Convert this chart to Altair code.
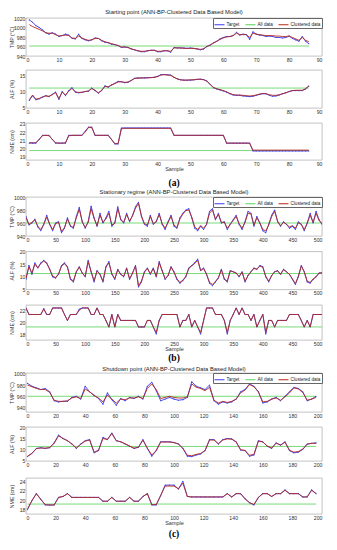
import altair as alt
import pandas as pd

FONT = "Liberation Sans"
SERIES = ["Target", "All data", "Clustered data"]
COLORS = ["#3a3af0", "#55d055", "#b22a1e"]

# ---------------- (a) Starting point ----------------
A_X = list(range(1, 87))
A_TMP_T = [1016, 1011, 1004, 1000, 995, 989, 986, 989, 986, 981,
           983, 986, 984, 977, 976, 986, 977, 974, 972, 974,
           978, 977, 972, 969, 968, 965, 964, 962, 958, 959,
           958, 955, 953, 951, 949, 949, 951, 952, 952, 949,
           949, 951, 951, 948, 958, 957, 957, 957, 956, 957,
           956, 955, 953, 955, 960, 963, 968, 971, 976, 979,
           981, 981, 983, 990, 984, 986, 985, 975, 991, 986,
           984, 983, 981, 982, 981, 979, 979, 978, 979, 982,
           977, 974, 971, 981, 971, 966]
A_TMP_C = [1006, 1002, 999, 996, 993, 989, 988, 988, 985, 982,
           983, 984, 983, 978, 977, 982, 978, 975, 973, 974,
           977, 977, 973, 970, 968, 966, 964, 962, 959, 959,
           958, 955, 953, 951, 950, 950, 951, 952, 952, 950,
           950, 951, 951, 950, 957, 957, 957, 956, 956, 956,
           956, 955, 954, 955, 960, 963, 967, 971, 975, 978,
           980, 981, 983, 988, 985, 985, 985, 979, 988, 986,
           985, 984, 983, 983, 983, 982, 982, 981, 981, 982,
           979, 976, 973, 979, 973, 970]
A_ALF_T = [7.2, 8.7, 7.4, 7.7, 8.2, 8.7, 8.4, 9.1, 9.8, 7.5,
           10.0, 8.7, 10.3, 11.2, 9.8, 9.6, 9.7, 10.0, 10.1, 11.1,
           10.3, 9.5, 10.3, 11.8, 11.4, 12.1, 12.6, 13.2, 13.1, 12.8,
           12.9, 13.5, 14.2, 14.3, 14.3, 14.3, 14.4, 14.4, 14.5, 14.8,
           15.3, 15.4, 15.3, 15.2, 14.5, 14.0, 13.7, 13.6, 13.6, 13.6,
           13.7, 13.8, 13.9, 13.8, 13.3, 12.2, 11.2, 10.8, 10.5, 10.2,
           9.8, 9.3, 8.9, 8.8, 8.8, 8.6, 8.5, 8.4, 8.5, 8.8,
           9.1, 9.3, 9.3, 8.8, 8.5, 8.6, 8.9, 9.3, 9.6, 10.0,
           10.3, 10.3, 10.3, 10.3, 10.8, 11.7]
A_ALF_C = [7.4, 8.9, 7.6, 7.8, 8.3, 8.6, 8.5, 9.0, 9.7, 7.8,
           9.8, 8.9, 10.1, 11.0, 9.9, 9.7, 9.8, 10.0, 10.2, 10.9,
           10.4, 9.6, 10.4, 11.6, 11.5, 12.0, 12.5, 13.0, 13.1, 12.9,
           13.0, 13.5, 14.1, 14.2, 14.3, 14.3, 14.3, 14.4, 14.5, 14.7,
           15.2, 15.3, 15.2, 15.1, 14.5, 14.0, 13.7, 13.6, 13.6, 13.7,
           13.7, 13.9, 13.9, 13.7, 13.3, 12.3, 11.3, 10.9, 10.6, 10.3,
           9.9, 9.4, 9.0, 8.9, 8.9, 8.8, 8.7, 8.6, 8.7, 8.9,
           9.2, 9.4, 9.3, 9.0, 8.8, 8.8, 9.0, 9.3, 9.6, 10.0,
           10.3, 10.4, 10.4, 10.4, 10.9, 11.8]
A_NME_T = [20.65, 20.65, 20.65, 21.1, 21.6, 21.6, 21.6, 21.1, 20.65, 20.65,
           20.65, 20.65, 21.6, 21.6, 21.6, 21.6, 21.6, 22.1, 22.6, 22.6,
           21.6, 21.6, 21.6, 21.6, 21.6, 21.1, 20.55, 20.55, 22.5, 22.5,
           22.5, 22.5, 22.5, 22.5, 22.5, 22.5, 22.5, 22.5, 22.5, 22.5,
           22.5, 22.5, 22.5, 22.5, 21.6, 21.6, 21.6, 21.6, 21.6, 21.6,
           21.6, 21.6, 21.6, 21.6, 21.6, 21.6, 21.6, 21.6, 21.6, 21.6,
           20.65, 20.65, 20.65, 20.65, 20.65, 20.65, 20.65, 20.65, 19.7, 19.7,
           19.7, 19.7, 19.7, 19.7, 19.7, 19.7, 19.7, 19.7, 19.7, 19.7,
           19.7, 19.7, 19.7, 19.7, 19.7, 19.7]
A_NME_C = [20.7, 20.7, 20.7, 21.1, 21.55, 21.6, 21.55, 21.1, 20.7, 20.65,
           20.65, 20.7, 21.55, 21.6, 21.6, 21.6, 21.6, 22.0, 22.55, 22.55,
           21.6, 21.6, 21.6, 21.6, 21.6, 21.1, 20.6, 20.6, 22.4, 22.45,
           22.45, 22.45, 22.45, 22.45, 22.45, 22.45, 22.45, 22.45, 22.45, 22.45,
           22.45, 22.45, 22.45, 22.45, 21.6, 21.6, 21.6, 21.6, 21.6, 21.6,
           21.6, 21.6, 21.6, 21.6, 21.6, 21.6, 21.6, 21.6, 21.6, 21.6,
           20.65, 20.65, 20.65, 20.65, 20.65, 20.65, 20.65, 20.65, 19.8, 19.8,
           19.8, 19.8, 19.8, 19.8, 19.8, 19.8, 19.8, 19.8, 19.8, 19.8,
           19.8, 19.8, 19.8, 19.8, 19.8, 19.8]
A_ALL_X = [1, 86]
A_ALL_TMP = [961, 961]
A_ALL_ALF = [11.1, 11.1]
A_ALL_NME = [19.75, 19.75]

# ---------------- (b) Stationary regime ----------------
B_X = list(range(0, 501, 5))
B_TMP_T = [970, 957, 960, 966, 954, 948, 958, 972, 958, 948,
           960, 962, 945, 952, 968, 955, 952, 970, 984, 962,
           952, 962, 986, 968, 955, 975, 960, 968, 978, 955,
           960, 985, 965, 960, 975, 962, 972, 985, 992, 970,
           958, 955, 972, 958, 962, 975, 958, 950, 962, 972,
           955, 952, 968, 975, 980, 982, 968, 952, 948, 955,
           950, 958, 978, 982, 965, 975, 960, 962, 950, 958,
           965, 972, 958, 950, 962, 978, 975, 955, 970, 960,
           948, 945, 958, 972, 980, 962, 955, 962, 958, 952,
           955, 950, 962, 958, 948, 960, 975, 960, 978, 965,
           958]
B_TMP_C = [968, 958, 961, 965, 955, 950, 958, 969, 958, 950,
           959, 961, 947, 953, 966, 956, 953, 968, 981, 962,
           953, 961, 982, 967, 956, 972, 961, 966, 975, 957,
           960, 982, 966, 961, 973, 963, 971, 983, 990, 971,
           959, 957, 970, 959, 962, 973, 959, 952, 961, 970,
           957, 953, 966, 974, 979, 980, 969, 954, 950, 956,
           952, 958, 975, 980, 966, 973, 961, 961, 952, 958,
           964, 970, 959, 952, 961, 975, 974, 957, 968, 960,
           950, 948, 957, 970, 978, 963, 956, 961, 958, 954,
           956, 952, 960, 958, 950, 959, 972, 961, 975, 964,
           959]
B_ALF_T = [9, 14.5, 11, 15.5, 13.5, 15.5, 16.5, 15.5, 13, 10,
           9.5, 11, 14.5, 15.5, 14, 9, 8, 12, 14, 11.5,
           10, 16.5, 12, 8, 12.5, 11, 8, 14, 16, 11,
           9, 13, 11, 10, 13.5, 9, 11.5, 14.5, 6, 8,
           12, 13.5, 11, 13.5, 10, 16, 12.5, 9, 10.5, 14,
           12, 9, 7.5, 8.5, 10, 13.5, 14.5, 15.5, 17, 12.5,
           13.5, 11, 7.5, 6.5, 8, 9.5, 13, 9, 8, 12.5,
           12, 11.5, 10, 12, 8, 10.5, 12, 13.5, 13, 14.5,
           14, 10, 8, 10.5, 12, 12.5, 11, 13, 12, 11,
           9, 7, 10, 14.5, 12, 8, 7.5, 9, 10, 11.5,
           11.5]
B_ALF_C = [9.5, 14, 11.5, 15, 13.5, 15.3, 16.2, 15.3, 13, 10.3,
           9.7, 11.2, 14.2, 15.2, 13.8, 9.3, 8.3, 12, 13.8, 11.5,
           10.2, 16, 12, 8.5, 12.3, 11, 8.3, 13.8, 15.5, 11.2,
           9.3, 12.8, 11, 10.2, 13.3, 9.2, 11.5, 14.2, 6.5, 8.3,
           11.8, 13.3, 11.2, 13.2, 10.2, 15.5, 12.3, 9.3, 10.5, 13.8,
           11.8, 9.2, 7.8, 8.7, 10.2, 13.3, 14.3, 15.3, 16.5, 12.5,
           13.3, 11, 7.8, 7, 8.2, 9.7, 12.8, 9.2, 8.3, 12.3,
           12, 11.5, 10.2, 11.8, 8.3, 10.5, 12, 13.3, 13, 14.2,
           13.8, 10.2, 8.3, 10.5, 12, 12.3, 11, 12.8, 12, 11,
           9.2, 7.3, 10.2, 14.2, 12, 8.3, 7.8, 9.2, 10, 11.5,
           11.6]
B_NME_T = [22.4, 21.3, 21.3, 21.3, 21.3, 21.3, 22.3, 21.3, 21.3, 22.4,
           22.4, 22.4, 22.4, 21.3, 20.3, 21.3, 21.3, 21.3, 22.2, 22.4,
           22.4, 22.4, 21.3, 21.3, 22.4, 21.3, 21.3, 20.3, 19.2, 21.3,
           19.2, 21.3, 20.3, 20.3, 20.3, 20.3, 20.3, 20.3, 19.2, 19.2,
           19.2, 20.3, 20.3, 19.2, 18.0, 20.3, 21.3, 21.3, 21.3, 21.3,
           21.3, 21.3, 19.2, 20.3, 20.3, 21.3, 19.2, 20.3, 19.2, 18.0,
           20.3, 22.4, 22.4, 22.4, 21.3, 21.3, 21.3, 20.3, 18.0, 20.3,
           21.3, 22.4, 21.3, 22.4, 21.3, 21.3, 20.3, 21.3, 19.2, 20.3,
           21.3, 18.0, 20.3, 20.3, 19.2, 20.3, 20.3, 20.3, 20.3, 21.3,
           21.3, 21.3, 21.3, 20.3, 19.2, 20.3, 19.2, 21.3, 21.3, 21.3,
           21.3]
B_NME_C = [22.4, 21.3, 21.3, 21.3, 21.3, 21.3, 22.2, 21.3, 21.3, 22.4,
           22.4, 22.4, 22.4, 21.3, 20.3, 21.3, 21.3, 21.3, 22.0, 22.4,
           22.4, 22.4, 21.3, 21.3, 22.4, 21.3, 21.3, 20.3, 19.2, 21.3,
           19.2, 21.3, 20.3, 20.3, 20.3, 20.3, 20.3, 20.3, 19.2, 19.2,
           19.2, 20.3, 20.3, 19.2, 18.3, 20.3, 21.3, 21.3, 21.3, 21.3,
           21.3, 21.3, 19.2, 20.3, 20.3, 21.3, 19.2, 20.3, 19.2, 18.3,
           20.3, 22.4, 22.4, 22.4, 21.3, 21.3, 21.3, 20.3, 18.3, 20.3,
           21.3, 22.4, 21.3, 22.4, 21.3, 21.3, 20.3, 21.3, 19.2, 20.3,
           21.3, 18.3, 20.3, 20.3, 19.2, 20.3, 20.3, 20.3, 20.3, 21.3,
           21.3, 21.3, 21.3, 20.3, 19.2, 20.3, 19.2, 21.3, 21.3, 21.3,
           21.3]
B_ALL_X = [0, 500]
B_ALL_TMP = [960, 960]
B_ALL_ALF = [11.3, 11.3]
B_ALL_NME = [19.2, 19.2]

# ---------------- (c) Shutdown point ----------------
C_X = list(range(1, 197, 3))
C_TMP_T = [983, 978, 975, 972, 974, 968, 952, 950, 951, 951,
           958, 960, 955, 978, 968, 962, 956, 946, 966, 954,
           944, 956, 952, 958, 956, 960, 955, 978, 985, 970,
           952, 955, 958, 955, 953, 954, 958, 986, 978, 975,
           972, 980, 952, 946, 950, 948, 950, 955, 968, 972,
           982, 978, 968, 948, 950, 955, 958, 952, 960, 968,
           976, 974, 968, 952, 955, 960]
C_TMP_C = [980, 977, 974, 972, 972, 967, 953, 951, 951, 952,
           957, 959, 956, 973, 968, 961, 957, 950, 962, 955,
           948, 955, 954, 957, 957, 959, 956, 974, 982, 972,
           956, 958, 960, 958, 957, 957, 959, 982, 976, 974,
           970, 976, 953, 948, 951, 949, 951, 955, 966, 971,
           981, 977, 968, 950, 951, 955, 957, 953, 959, 966,
           975, 973, 967, 953, 955, 958]
C_ALF_T = [6.8, 8.2, 10.5, 10.8, 10.5, 10.8, 13, 16.5, 15, 14,
           12.5, 10.5, 12.5, 14, 14.5, 8.5, 9.5, 15.5, 14.5, 17.5,
           14, 13.5, 12.5, 11.5, 10.5, 11, 14.5, 10.5, 7, 9.5,
           13.5, 13.5, 13.5, 13.2, 12.5, 10.5, 7, 6.8, 7.5, 8,
           9.5, 14.5, 14.5, 12.5, 14.5, 15, 14.8, 13.5, 9.8, 9.5,
           7, 7.5, 14, 13.5, 11.5, 10.5, 13, 12, 13.5, 9.5,
           8.5, 8.8, 10, 12.5, 12.8, 13]
C_ALF_C = [7, 8.3, 10.4, 10.7, 10.6, 10.9, 12.8, 16.2, 15, 14,
           12.6, 10.7, 12.4, 13.8, 14.3, 8.8, 9.7, 15, 14.5, 17.2,
           14, 13.5, 12.6, 11.6, 10.6, 11.1, 14.2, 10.6, 7.5, 9.6,
           13.4, 13.4, 13.4, 13.1, 12.5, 10.6, 7.4, 7.2, 7.8, 8.2,
           9.6, 14.3, 14.3, 12.6, 14.3, 14.8, 14.7, 13.4, 9.9, 9.6,
           7.4, 7.8, 13.8, 13.4, 11.6, 10.7, 12.9, 12, 13.3, 9.7,
           8.8, 9.1, 10.2, 12.4, 12.8, 12.8]
C_NME_T = [18.0, 19.9, 21.4, 20.2, 19.0, 19.0, 19.0, 20.6, 20.8, 21.4,
           20.6, 20.6, 20.6, 20.6, 20.6, 20.6, 20.6, 19.8, 19.8, 20.6,
           19.8, 19.8, 19.8, 20.6, 19.8, 19.8, 20.8, 21.4, 19.0, 19.0,
           21.0, 23.2, 23.2, 23.2, 22.4, 24.0, 20.8, 20.7, 20.7, 20.7,
           20.7, 20.7, 20.7, 20.7, 20.7, 21.4, 20.7, 21.4, 21.4, 20.3,
           19.5, 19.0, 20.6, 21.4, 21.4, 20.8, 21.4, 21.4, 22.2, 21.4,
           21.4, 21.4, 20.7, 20.7, 22.2, 21.4]
C_NME_C = [18.2, 19.9, 21.4, 20.2, 19.1, 19.0, 19.0, 20.6, 20.8, 21.4,
           20.6, 20.6, 20.6, 20.6, 20.6, 20.6, 20.6, 19.8, 19.8, 20.6,
           19.8, 19.8, 19.8, 20.6, 19.8, 19.8, 20.8, 21.4, 19.1, 19.1,
           21.0, 23.0, 23.0, 23.0, 22.4, 23.6, 20.8, 20.7, 20.7, 20.7,
           20.7, 20.7, 20.7, 20.7, 20.7, 21.4, 20.7, 21.4, 21.4, 20.3,
           19.5, 19.1, 20.6, 21.4, 21.4, 20.8, 21.4, 21.4, 22.1, 21.4,
           21.4, 21.4, 20.7, 20.7, 22.1, 21.4]
C_ALL_X = [1, 196]
C_ALL_TMP = [960, 960]
C_ALL_ALF = [11.4, 11.4]
C_ALL_NME = [19.2, 19.2]


def panel(xs, tgt, clu, ax, ay, xdom, xstep, ydom, yticks, ytitle, h,
          legend=False, top=None, top_off=1, sample=False, caption=None, cap_off=2):
    n = len(xs)
    df = pd.DataFrame({
        "sample": list(xs) + list(xs) + list(ax),
        "value": list(tgt) + list(clu) + list(ay),
        "series": ["Target"] * n + ["Clustered data"] * n + ["All data"] * len(ax),
    })
    leg = None
    if legend:
        leg = alt.Legend(orient="top-right", direction="horizontal", title=None,
                         labelFontSize=4.6, labelFont=FONT, labelColor="#222",
                         symbolType="stroke", symbolSize=100, symbolStrokeWidth=1,
                         strokeColor="#666", fillColor="white", padding=1,
                         offset=0, columnPadding=3, labelOffset=1.5,
                         rowPadding=0, labelLimit=80)
    xenc = alt.X("sample:Q",
                 scale=alt.Scale(domain=xdom, nice=False, zero=False),
                 axis=alt.Axis(values=list(range(xdom[0], xdom[1] + 1, xstep)),
                               format="d", title="Sample" if sample else None))
    yenc = alt.Y("value:Q",
                 scale=alt.Scale(domain=ydom, nice=False, zero=False),
                 axis=alt.Axis(values=yticks, format="d", title=ytitle))
    cenc = alt.Color("series:N", scale=alt.Scale(domain=SERIES, range=COLORS), legend=leg)
    base = alt.Chart(df).encode(x=xenc, y=yenc, color=cenc)
    l_all = base.transform_filter(alt.datum.series == "All data").mark_line(strokeWidth=0.8, clip=True)
    l_t = base.transform_filter(alt.datum.series == "Target").mark_line(strokeWidth=0.9, clip=True)
    p_t = base.transform_filter(alt.datum.series == "Target").mark_circle(size=1.2, opacity=1, clip=True)
    l_c = base.transform_filter(alt.datum.series == "Clustered data").mark_line(strokeWidth=0.9, clip=True)
    ch = alt.layer(l_all, l_t, p_t, l_c).properties(width=296, height=h)
    if top:
        ch = ch.properties(title=alt.TitleParams(top, fontSize=5.8, font=FONT, fontWeight="normal",
                                                 color="#222", offset=top_off, anchor="middle"))
    if caption:
        ch = ch.properties(title=alt.TitleParams(caption, orient="bottom", font="Liberation Serif",
                                                 fontSize=9.5, fontWeight="bold", color="#000",
                                                 offset=cap_off, anchor="middle"))
    return ch


def vc(*charts, spacing):
    return alt.vconcat(*charts, spacing=spacing).resolve_scale(
        x="independent", y="independent", color="independent").resolve_legend(color="independent")


a1 = panel(A_X, A_TMP_T, A_TMP_C, A_ALL_X, A_ALL_TMP, [0, 90], 10, [940, 1020],
           [940, 960, 980, 1000, 1020], "TMP (°C)", 38, legend=True,
           top="Starting point (ANN-BP-Clustered Data Based Model)")
a2 = panel(A_X, A_ALF_T, A_ALF_C, A_ALL_X, A_ALL_ALF, [0, 90], 10, [4.8, 16.8],
           [5, 10, 15], "ALF (%)", 38)
a3 = panel(A_X, A_NME_T, A_NME_C, A_ALL_X, A_ALL_NME, [0, 90], 10, [18.6, 23.1],
           [19, 20, 21, 22, 23], "NME (cm)", 37, sample=True, caption="(a)", cap_off=6)

b1 = panel(B_X, B_TMP_T, B_TMP_C, B_ALL_X, B_ALL_TMP, [0, 500], 50, [940, 1000],
           [940, 960, 980, 1000], "TMP (°C)", 39, legend=True, top_off=0,
           top="Stationary regime (ANN-BP-Clustered Data Based Model)")
b2 = panel(B_X, B_ALF_T, B_ALF_C, B_ALL_X, B_ALL_ALF, [0, 500], 50, [5, 20],
           [5, 10, 15, 20], "ALF (%)", 38)
b3 = panel(B_X, B_NME_T, B_NME_C, B_ALL_X, B_ALL_NME, [0, 500], 50, [17, 22.9],
           [18, 20, 22], "NME (cm)", 35, sample=True, caption="(b)", cap_off=1)

c1 = panel(C_X, C_TMP_T, C_TMP_C, C_ALL_X, C_ALL_TMP, [0, 200], 20, [932, 1001.5],
           [940, 960, 980, 1000], "TMP (°C)", 39, legend=True, top_off=0,
           top="Shutdown point (ANN-BP-Clustered Data Based Model)")
c2 = panel(C_X, C_ALF_T, C_ALF_C, C_ALL_X, C_ALL_ALF, [0, 200], 20, [4.8, 20.2],
           [5, 10, 15, 20], "ALF (%)", 34)
c3 = panel(C_X, C_NME_T, C_NME_C, C_ALL_X, C_ALL_NME, [0, 200], 20, [17.1, 24.7],
           [18, 20, 22, 24], "NME (cm)", 36, sample=True, caption="(c)", cap_off=3.5)

ga = vc(vc(a1, a2, spacing=6), a3, spacing=6)
gb = vc(vc(b1, b2, spacing=5.5), b3, spacing=8)
gc = vc(vc(c1, c2, spacing=6), c3, spacing=9)

chart = vc(vc(ga, gb, spacing=0), gc, spacing=2).properties(padding=0, background="white").configure_view(
    stroke="#9a9a9a", strokeWidth=0.6
).configure_axis(
    labelFont=FONT, titleFont=FONT, labelFontSize=5.2, titleFontSize=5.2,
    labelColor="#333", titleColor="#333", ticks=False, domain=False, grid=False,
    labelPadding=1, titleFontWeight="normal"
).configure_axisY(
    minExtent=11, maxExtent=11, titlePadding=1
).configure_axisX(
    titlePadding=0, titleFontSize=5.5
)

chart.save("out.html", embed_options={"renderer": "svg", "actions": False})
